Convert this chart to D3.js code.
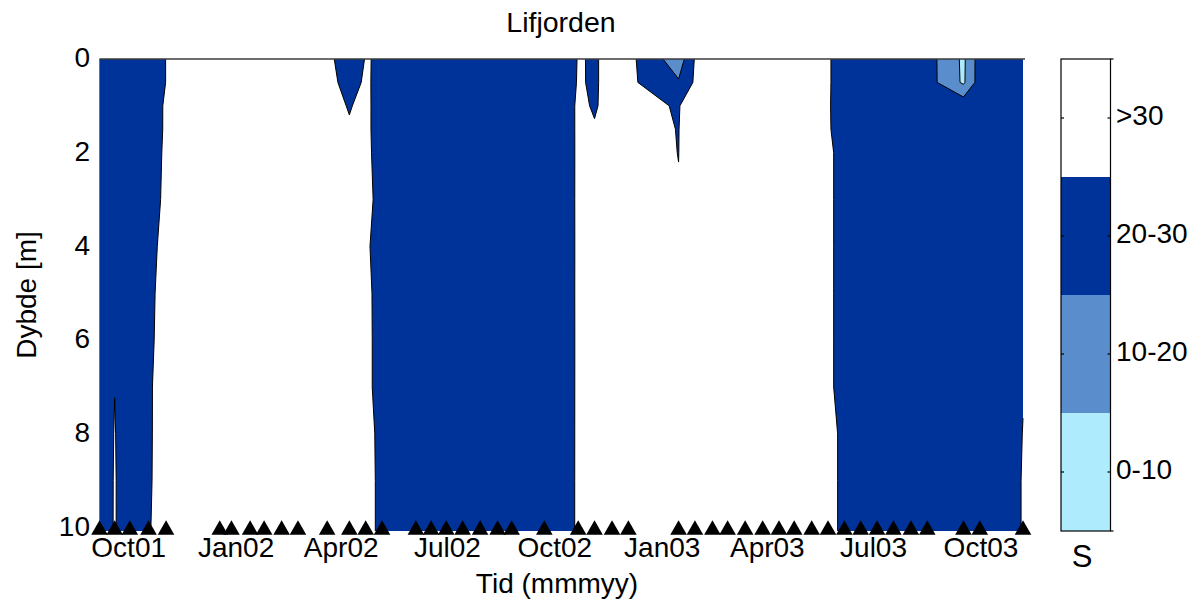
<!DOCTYPE html>
<html lang="en">
<head>
<meta charset="UTF-8">
<title>Lifjorden</title>
<script src="https://d3js.org/d3.v7.min.js"></script>
<style>
  body { margin: 0; background: #fff; }
  text { font-family: "Liberation Sans", Arial, Helvetica, sans-serif; fill: #000; }
</style>
</head>
<body>
<svg id="chart" width="1193" height="600"></svg>
<script>
// sampling dates (triangles along the bottom)
const sampleDates = [
  "2001-09-06", "2001-09-19", "2001-10-02", "2001-10-18", "2001-11-02",
  "2001-12-18", "2001-12-28", "2002-01-13", "2002-01-25", "2002-02-09",
  "2002-02-23", "2002-03-20", "2002-04-08", "2002-04-22", "2002-05-06",
  "2002-06-04", "2002-06-17", "2002-06-30", "2002-07-14", "2002-07-29",
  "2002-08-13", "2002-08-25", "2002-09-22", "2002-10-21", "2002-11-04",
  "2002-11-19", "2002-12-03", "2003-01-15", "2003-01-29", "2003-02-13",
  "2003-02-26", "2003-03-13", "2003-03-28", "2003-04-11", "2003-04-24",
  "2003-05-09", "2003-05-23", "2003-06-06", "2003-06-20", "2003-07-04",
  "2003-07-18", "2003-08-02", "2003-08-16", "2003-09-16", "2003-09-30",
  "2003-11-06"
];

// depth levels [m]
const depths = [0, 0.5, 1, 1.5, 2, 3, 4, 5, 6, 7, 8, 9, 10];

// salinity profile per sampling date, one value per depth level
const salinity = [
  [24.5, 25.0, 25.5, 26.0, 26.5, 27.0, 27.5, 28.0, 28.2, 28.4, 28.5, 28.6, 28.7],
  [24.8, 25.2, 25.6, 26.0, 26.5, 27.2, 27.8, 28.5, 29.2, 29.97, 30.1, 30.15, 30.15],
  [25.0, 25.4, 25.8, 26.2, 26.6, 27.2, 27.8, 28.2, 28.4, 28.5, 28.5, 28.6, 28.6],
  [26.0, 26.0, 26.5, 27.0, 27.5, 28.0, 28.5, 28.8, 29.0, 29.2, 29.3, 29.4, 29.5],
  [30.1, 30.1, 30.8, 30.7, 30.8, 30.9, 31.5, 32.0, 32.1, 32.8, 32.5, 32.4, 33.3],
  [31.0, 31.1, 31.3, 31.5, 31.7, 32.0, 32.2, 32.4, 32.6, 32.8, 33.0, 33.1, 33.2],
  [31.2, 31.3, 31.4, 31.6, 31.8, 32.1, 32.3, 32.5, 32.7, 32.9, 33.0, 33.1, 33.2],
  [31.4, 31.5, 31.6, 31.7, 31.9, 32.2, 32.4, 32.6, 32.8, 33.0, 33.1, 33.2, 33.3],
  [31.6, 31.7, 31.8, 31.9, 32.0, 32.3, 32.5, 32.7, 32.9, 33.0, 33.1, 33.2, 33.3],
  [31.8, 31.9, 32.0, 32.1, 32.2, 32.4, 32.6, 32.8, 32.9, 33.0, 33.1, 33.2, 33.3],
  [32.0, 32.0, 32.1, 32.2, 32.3, 32.5, 32.7, 32.8, 32.9, 33.0, 33.1, 33.2, 33.3],
  [31.5, 31.5, 31.5, 31.6, 31.8, 32.0, 32.2, 32.4, 32.6, 32.8, 33.0, 33.1, 33.2],
  [26.8, 28.4, 29.75, 30.4, 30.8, 31.2, 31.5, 31.8, 32.0, 32.2, 32.4, 32.5, 32.6],
  [30.25, 30.6, 31.1, 31.0, 31.0, 31.0, 31.0, 31.0, 31.0, 31.0, 31.0, 31.0, 31.0],
  [29.5, 28.7, 27.7, 27.9, 28.2, 28.8, 27.2, 28.4, 28.5, 28.5, 29.2, 29.3, 29.3],
  [22.5, 23.5, 24.5, 25.0, 25.5, 26.2, 26.8, 27.3, 27.7, 28.0, 28.3, 28.5, 28.6],
  [21.8, 23.0, 24.0, 24.8, 25.4, 26.0, 26.6, 27.1, 27.5, 27.9, 28.2, 28.4, 28.5],
  [21.5, 22.6, 23.8, 24.6, 25.2, 25.9, 26.5, 27.0, 27.4, 27.8, 28.1, 28.3, 28.4],
  [21.2, 22.4, 23.5, 24.4, 25.0, 25.8, 26.4, 26.9, 27.3, 27.7, 28.0, 28.2, 28.4],
  [21.6, 22.7, 23.7, 24.5, 25.1, 25.8, 26.4, 26.9, 27.4, 27.8, 28.1, 28.3, 28.5],
  [22.3, 23.2, 24.1, 24.8, 25.4, 26.0, 26.6, 27.1, 27.5, 27.9, 28.2, 28.4, 28.6],
  [23.0, 23.8, 24.5, 25.1, 25.7, 26.3, 26.8, 27.3, 27.7, 28.0, 28.3, 28.5, 28.6],
  [24.0, 24.5, 25.0, 25.5, 26.0, 26.5, 27.0, 27.5, 28.0, 28.2, 28.4, 28.5, 28.6],
  [30.21, 30.29, 30.56, 30.5, 30.44, 30.39, 30.33, 30.28, 30.22, 30.2, 30.18, 30.17, 30.16],
  [29.74, 29.65, 29.76, 30.2, 30.5, 30.8, 31.0, 31.2, 31.4, 31.5, 31.6, 31.7, 31.8],
  [30.85, 31.14, 30.96, 31.0, 31.2, 31.4, 31.6, 31.8, 32.0, 32.1, 32.2, 32.3, 32.4],
  [32.9, 32.1, 31.3, 31.5, 31.8, 32.0, 32.2, 32.4, 32.6, 32.8, 33.0, 33.1, 33.2],
  [14.2, 21.0, 29.7, 29.9, 29.95, 30.2, 30.5, 30.8, 31.0, 31.2, 31.4, 31.5, 31.6],
  [30.66, 31.3, 33.4, 33.4, 33.4, 33.4, 33.4, 33.5, 33.5, 33.6, 33.6, 33.7, 33.7],
  [31.5, 31.8, 32.2, 32.5, 32.7, 32.9, 33.0, 33.1, 33.2, 33.3, 33.4, 33.4, 33.5],
  [31.3, 31.6, 32.0, 32.3, 32.5, 32.8, 33.0, 33.1, 33.2, 33.3, 33.3, 33.4, 33.4],
  [31.2, 31.5, 31.9, 32.2, 32.4, 32.7, 32.9, 33.0, 33.1, 33.2, 33.3, 33.3, 33.4],
  [31.0, 31.3, 31.7, 32.0, 32.2, 32.5, 32.7, 32.9, 33.0, 33.1, 33.2, 33.3, 33.3],
  [30.8, 31.1, 31.5, 31.8, 32.0, 32.3, 32.5, 32.7, 32.9, 33.0, 33.1, 33.2, 33.2],
  [30.7, 30.9, 31.2, 31.5, 31.7, 32.0, 32.2, 32.4, 32.6, 32.8, 32.9, 33.0, 33.1],
  [30.9, 31.0, 31.2, 31.4, 31.5, 31.7, 31.9, 32.1, 32.3, 32.5, 32.6, 32.7, 32.8],
  [31.0, 31.0, 31.0, 31.0, 31.0, 31.0, 31.0, 31.0, 31.0, 31.0, 31.0, 31.0, 31.0],
  [25.4, 25.4, 24.6, 25.4, 28.1, 28.1, 28.1, 28.1, 28.1, 28.1, 29.3, 29.3, 29.3],
  [22.0, 23.0, 24.0, 24.8, 25.5, 26.2, 26.8, 27.3, 27.7, 28.0, 28.3, 28.5, 28.6],
  [21.5, 22.6, 23.6, 24.5, 25.2, 26.0, 26.6, 27.1, 27.5, 27.9, 28.2, 28.4, 28.5],
  [21.0, 22.2, 23.3, 24.2, 25.0, 25.8, 26.4, 26.9, 27.4, 27.8, 28.1, 28.3, 28.4],
  [21.8, 22.8, 23.8, 24.6, 25.3, 26.0, 26.6, 27.1, 27.5, 27.9, 28.2, 28.4, 28.5],
  [24.3, 24.3, 25.0, 25.4, 25.8, 26.4, 26.9, 27.3, 27.7, 28.0, 28.3, 28.5, 28.6],
  [8.16, 8.5, 27.0, 27.2, 27.4, 27.6, 27.8, 28.0, 28.2, 28.4, 28.6, 28.8, 28.9],
  [24.9, 24.9, 25.5, 25.8, 26.0, 26.3, 26.5, 26.7, 26.8, 26.9, 27.0, 27.0, 27.0],
  [26.0, 26.3, 26.6, 26.9, 27.2, 27.8, 28.3, 28.8, 29.3, 29.9, 30.05, 30.14, 30.14]
];

// contour levels and classes (lowest class first)
const levels = [10, 20, 30];
const classLabels = ["0-10", "10-20", "20-30", ">30"];
const classColors = ["#aeebfc", "#598dcc", "#003399", "#ffffff"];

const xTickDates = ["2001-10-01", "2002-01-01", "2002-04-01", "2002-07-01", "2002-10-01",
                    "2003-01-01", "2003-04-01", "2003-07-01", "2003-10-01"];
const yTickValues = [0, 2, 4, 6, 8, 10];

const svg = d3.select("#chart");
const parse = d3.timeParse("%Y-%m-%d");
const dates = sampleDates.map(parse);

const x = d3.scaleTime().domain([dates[0], dates[dates.length - 1]]).range([99.5, 1023]);
const y = d3.scaleLinear().domain([0, 10.075]).range([59, 531]);

const nx = dates.length, ny = depths.length;
const xPos = dates.map(d => x(d));
const yPos = depths.map(d => y(d));
yPos[ny - 1] = y.range()[1];

// contour grid coordinate -> pixel (sample i sits at i + 0.5)
function gridToPx(c, pos) {
  const n = pos.length;
  if (c <= 0.5) return pos[0];
  if (c >= n - 0.5) return pos[n - 1];
  const t = c - 0.5, i = Math.floor(t);
  return pos[i] + (pos[i + 1] - pos[i]) * (t - i);
}

const values = [];
for (let j = 0; j < ny; j++)
  for (let i = 0; i < nx; i++) values.push(salinity[i][j]);

const contours = d3.contours().size([nx, ny]).thresholds(levels)(values);

const proj = d3.geoTransform({
  point(px, py) { this.stream.point(gridToPx(px, xPos), gridToPx(py, yPos)); }
});
const path = d3.geoPath(proj);

const plot = svg.append("g");

plot.append("rect")
  .attr("x", x.range()[0]).attr("y", y.range()[0])
  .attr("width", x.range()[1] - x.range()[0])
  .attr("height", y.range()[1] - y.range()[0])
  .attr("fill", classColors[0]);

plot.selectAll("path.fill")
  .data(contours)
  .join("path")
  .attr("class", "fill")
  .attr("d", path)
  .attr("fill", (d, i) => classColors[i + 1]);

// contour lines, without the parts that run along the plot border
const [bx0, bx1] = x.range(), [by0, by1] = y.range();
function edgeBits(p) {
  let e = 0;
  if (Math.abs(p[0] - bx0) < 0.01) e |= 1;
  if (Math.abs(p[0] - bx1) < 0.01) e |= 2;
  if (Math.abs(p[1] - by0) < 0.01) e |= 4;
  if (Math.abs(p[1] - by1) < 0.01) e |= 8;
  return e;
}
function linePath(geom) {
  let s = "";
  geom.coordinates.forEach(poly => poly.forEach(ring => {
    const pts = ring.map(p => [gridToPx(p[0], xPos), gridToPx(p[1], yPos)]);
    let pen = false;
    for (let k = 1; k < pts.length; k++) {
      const a = pts[k - 1], b = pts[k];
      if (edgeBits(a) & edgeBits(b)) { pen = false; continue; }
      if (!pen) { s += "M" + a[0].toFixed(2) + "," + a[1].toFixed(2); pen = true; }
      s += "L" + b[0].toFixed(2) + "," + b[1].toFixed(2);
    }
  }));
  return s;
}

plot.selectAll("path.iso")
  .data(contours)
  .join("path")
  .attr("class", "iso")
  .attr("d", linePath)
  .attr("fill", "none")
  .attr("stroke", "#000")
  .attr("stroke-width", 1);

// top border
svg.append("line")
  .attr("x1", bx0).attr("x2", bx1 + 2)
  .attr("y1", by0).attr("y2", by0)
  .attr("stroke", "#3c3c3c").attr("stroke-width", 1.5);

// sampling markers
svg.selectAll("path.tri")
  .data(dates)
  .join("path")
  .attr("class", "tri")
  .attr("d", d => {
    const cx = x(d), cy = y(10);
    return `M${cx},${cy - 7.2}L${cx + 8.3},${cy + 7.2}L${cx - 8.3},${cy + 7.2}Z`;
  })
  .attr("fill", "#000");

// axes labels
svg.selectAll("text.ytick")
  .data(yTickValues)
  .join("text")
  .attr("class", "ytick")
  .attr("x", 90)
  .attr("y", d => y(d) - 1.5)
  .attr("dy", "0.35em")
  .attr("text-anchor", "end")
  .attr("font-size", 28)
  .text(d => d);

svg.selectAll("text.xtick")
  .data(xTickDates.map(parse))
  .join("text")
  .attr("class", "xtick")
  .attr("x", d => x(d))
  .attr("y", 557)
  .attr("text-anchor", "middle")
  .attr("font-size", 28)
  .text(d3.timeFormat("%b%y"));

svg.append("text")
  .attr("x", 561).attr("y", 32)
  .attr("text-anchor", "middle")
  .attr("font-size", 28.5)
  .text("Lifjorden");

svg.append("text")
  .attr("x", 557).attr("y", 593)
  .attr("text-anchor", "middle")
  .attr("font-size", 28)
  .text("Tid (mmmyy)");

svg.append("text")
  .attr("transform", "translate(36,295) rotate(-90)")
  .attr("text-anchor", "middle")
  .attr("font-size", 28)
  .text("Dybde [m]");

// colorbar
const cbX = 1061, cbW = 49.5;
const cb = d3.scaleBand().domain(classLabels.slice().reverse()).range([59, 531]);
const cbar = svg.append("g");
cbar.selectAll("rect")
  .data(classLabels)
  .join("rect")
  .attr("x", cbX).attr("y", d => cb(d))
  .attr("width", cbW).attr("height", cb.bandwidth())
  .attr("fill", (d, i) => classColors[i]);
cbar.append("rect")
  .attr("x", cbX).attr("y", 59).attr("width", cbW).attr("height", 472)
  .attr("fill", "none").attr("stroke", "#000").attr("stroke-width", 1.2);
classLabels.forEach(lab => {
  const cy = cb(lab) + cb.bandwidth() / 2;
  cbar.append("line").attr("x1", cbX).attr("x2", cbX + 3).attr("y1", cy).attr("y2", cy)
    .attr("stroke", "#000").attr("stroke-width", 1.2);
  cbar.append("line").attr("x1", cbX + cbW - 3).attr("x2", cbX + cbW).attr("y1", cy).attr("y2", cy)
    .attr("stroke", "#000").attr("stroke-width", 1.2);
  cbar.append("text")
    .attr("x", 1116).attr("y", cy - 2.5).attr("dy", "0.35em")
    .attr("font-size", 28)
    .text(lab);
});
[59, 531].forEach(v => cbar.append("line")
  .attr("x1", cbX + cbW).attr("x2", cbX + cbW + 3).attr("y1", v).attr("y2", v)
  .attr("stroke", "#000").attr("stroke-width", 1.2));

svg.append("text")
  .attr("x", 1082).attr("y", 567)
  .attr("text-anchor", "middle")
  .attr("font-size", 31)
  .text("S");
</script>
</body>
</html>
